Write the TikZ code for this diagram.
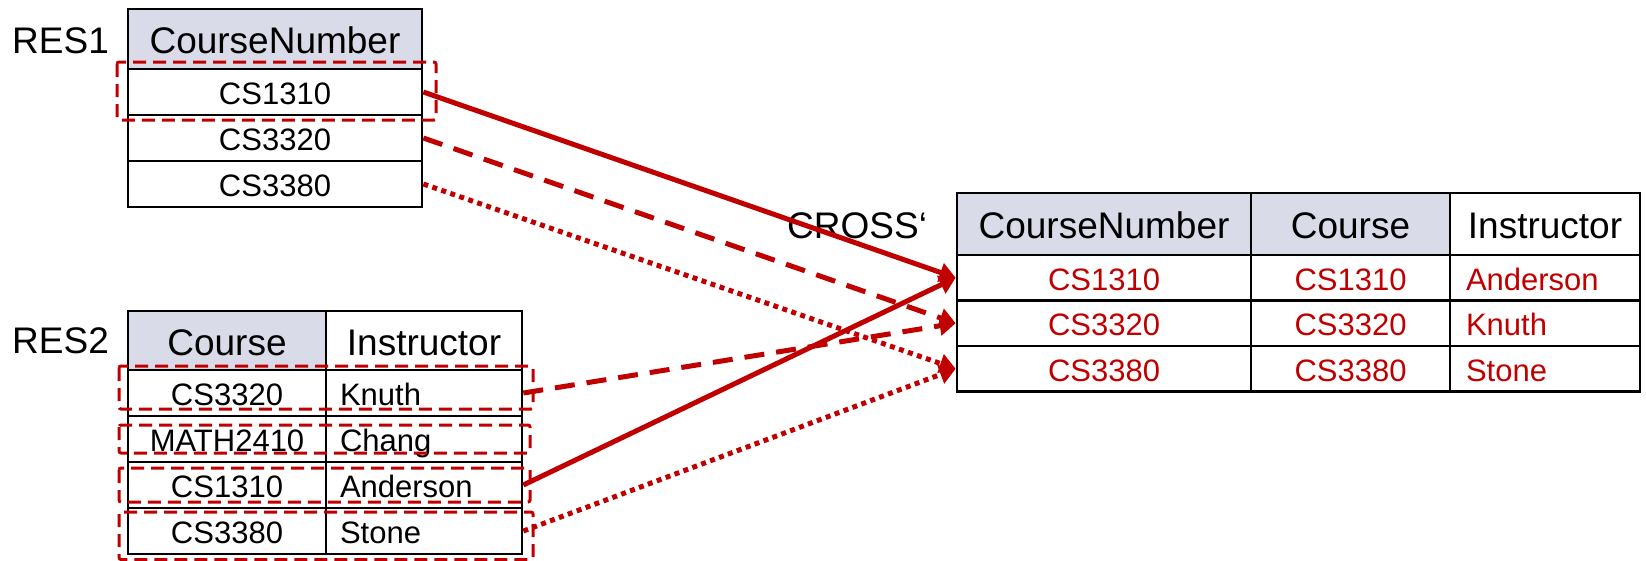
\documentclass[tikz,border=0pt]{standalone}
\usepackage{fontspec}
\setmainfont{Liberation Sans}
\usetikzlibrary{arrows.meta}
\definecolor{hdrfill}{RGB}{217,220,232}
\definecolor{relred}{RGB}{192,0,0}
\tikzset{
  cell/.style={draw=black, line width=2.7pt, inner sep=0pt, fill=white,
    text height=25pt, text depth=0pt, font=\fontsize{31pt}{37pt}\selectfont},
  hcell/.style={cell, text height=29pt, font=\fontsize{37pt}{44pt}\selectfont},
  shaded/.style={fill=hdrfill},
  hit/.style={text=relred},
  lbl/.style={inner sep=0pt, font=\fontsize{37pt}{44pt}\selectfont},
  selbox/.style={draw=relred, line width=3pt, dash pattern=on 13pt off 7pt, rounded corners=2pt},
  link/.style={draw=relred, line width=5pt, -{Triangle[length=16pt,width=19pt]}},
  linkdash/.style={link, dash pattern=on 20pt off 12pt},
  linkdot/.style={link, dash pattern=on 5pt off 4.5pt}
}
\begin{document}
\begin{tikzpicture}[x=1pt,y=-1pt]
\useasboundingbox (0,0) rectangle (1646,560);

% relation labels
\node[lbl, anchor=base west] (res1) at (12,53) {RES1};
\node[lbl, anchor=base west] (res2) at (12,353) {RES2};
\node[lbl, anchor=base west] (cross) at (787,238) {CROSS‘};

% RES1
\node[hcell, shaded, minimum width=294pt, minimum height=60pt] (r1h) at (275,39) {CourseNumber};
\node[cell, minimum width=294pt, minimum height=46pt] (r1a) at (275,92) {CS1310};
\node[cell, minimum width=294pt, minimum height=46pt] (r1b) at (275,138) {CS3320};
\node[cell, minimum width=294pt, minimum height=46pt] (r1c) at (275,184) {CS3380};

% RES2
\node[hcell, shaded, minimum width=198pt, minimum height=59pt] (r2h1) at (227,340.5) {Course};
\node[hcell, minimum width=196pt, minimum height=59pt] (r2h2) at (424,340.5) {Instructor};
\node[cell, minimum width=198pt, minimum height=46pt] (r2a1) at (227,393) {CS3320};
\node[cell, minimum width=196pt, minimum height=46pt, text width=168pt, inner xsep=14pt, align=left] (r2a2) at (424,393) {Knuth};
\node[cell, minimum width=198pt, minimum height=46pt] (r2b1) at (227,439) {MATH2410};
\node[cell, minimum width=196pt, minimum height=46pt, text width=168pt, inner xsep=14pt, align=left] (r2b2) at (424,439) {Chang};
\node[cell, minimum width=198pt, minimum height=46pt] (r2c1) at (227,485) {CS1310};
\node[cell, minimum width=196pt, minimum height=46pt, text width=168pt, inner xsep=14pt, align=left] (r2c2) at (424,485) {Anderson};
\node[cell, minimum width=198pt, minimum height=46pt] (r2d1) at (227,531) {CS3380};
\node[cell, minimum width=196pt, minimum height=46pt, text width=168pt, inner xsep=14pt, align=left] (r2d2) at (424,531) {Stone};

% CROSS result
\node[hcell, shaded, minimum width=294pt, minimum height=62pt] (xh1) at (1104,224) {CourseNumber};
\node[hcell, shaded, minimum width=199pt, minimum height=62pt] (xh2) at (1350.5,224) {Course};
\node[hcell, minimum width=190pt, minimum height=62pt] (xh3) at (1545,224) {Instructor};
\node[cell, hit, minimum width=294pt, minimum height=45.5pt] (x1a) at (1104,277.75) {CS1310};
\node[cell, hit, minimum width=199pt, minimum height=45.5pt] (x1b) at (1350.5,277.75) {CS1310};
\node[cell, hit, minimum width=190pt, minimum height=45.5pt, text width=158pt, inner xsep=16pt, align=left] (x1c) at (1545,277.75) {Anderson};
\node[cell, hit, minimum width=294pt, minimum height=45.5pt] (x2a) at (1104,323.25) {CS3320};
\node[cell, hit, minimum width=199pt, minimum height=45.5pt] (x2b) at (1350.5,323.25) {CS3320};
\node[cell, hit, minimum width=190pt, minimum height=45.5pt, text width=158pt, inner xsep=16pt, align=left] (x2c) at (1545,323.25) {Knuth};
\node[cell, hit, minimum width=294pt, minimum height=45.5pt] (x3a) at (1104,368.75) {CS3380};
\node[cell, hit, minimum width=199pt, minimum height=45.5pt] (x3b) at (1350.5,368.75) {CS3380};
\node[cell, hit, minimum width=190pt, minimum height=45.5pt, text width=158pt, inner xsep=16pt, align=left] (x3c) at (1545,368.75) {Stone};

% selected tuples
\draw[selbox] (117,62) rectangle (436,120);
\draw[selbox] (119,366) rectangle (533,409);
\draw[selbox] (119,425) rectangle (530,453);
\draw[selbox] (119,468) rectangle (530,502);
\draw[selbox] (119,512) rectangle (533,559.5);

% tuple pairings
\draw[link] (r1a.east) -- (x1a.west);
\draw[linkdash] (r1b.east) -- (x2a.west);
\draw[linkdot] (r1c.east) -- (x3a.west);
\draw[linkdash] (r2a2.east) -- (x2a.west);
\draw[link] (r2c2.east) -- (x1a.west);
\draw[linkdot] (r2d2.east) -- (x3a.west);
\end{tikzpicture}
\end{document}
